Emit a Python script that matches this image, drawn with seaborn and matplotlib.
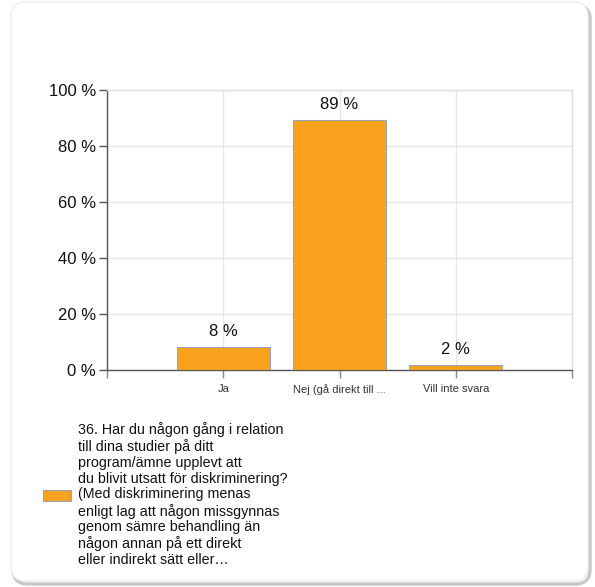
import matplotlib
matplotlib.use("Agg")
from matplotlib import pyplot as plt
from matplotlib.patches import FancyBboxPatch, Patch
import seaborn as sns
import pandas as pd

# Data
categories = ["Ja", "Nej (gå direkt till ...", "Vill inte svara"]
percent = [8.3, 89.4, 1.9]
y_ticks = [0, 20, 40, 60, 80, 100]
legend_label = (
    "36. Har du någon gång i relation\n"
    "till dina studier på ditt\n"
    "program/ämne upplevt att\n"
    "du blivit utsatt för diskriminering?\n"
    "(Med diskriminering menas\n"
    "enligt lag att någon missgynnas\n"
    "genom sämre behandling än\n"
    "någon annan på ett direkt\n"
    "eller indirekt sätt eller…"
)

bar_color = "#F7A11D"

sns.set_style("white")
plt.rcParams["font.family"] = ["Liberation Sans", "DejaVu Sans"]

df = pd.DataFrame({"Svar": categories, "Procent": percent})

fig = plt.figure(figsize=(5.95, 5.87), dpi=100)

# Rounded frame around the whole chart (shadow + light border)
shadow = FancyBboxPatch(
    (13 / 595, 3 / 587), 577 / 595, 579 / 587,
    boxstyle="round,pad=0,rounding_size=0.025",
    transform=fig.transFigure, facecolor="white",
    edgecolor="#c8c8c8", linewidth=2.5, zorder=-10,
)
fig.patches.append(shadow)
frame = FancyBboxPatch(
    (11 / 595, 6 / 587), 577 / 595, 579 / 587,
    boxstyle="round,pad=0,rounding_size=0.025",
    transform=fig.transFigure, facecolor="white",
    edgecolor="#eeeeee", linewidth=1.0, zorder=-9,
)
fig.patches.append(frame)

ax = fig.add_axes([107 / 595, 1 - 370 / 587, 465 / 595, 280 / 587])
ax.set_facecolor("none")

sns.barplot(data=df, x="Svar", y="Procent", color=bar_color, width=0.8,
            edgecolor="#9aa6b8", linewidth=0.8, saturation=1, ax=ax, zorder=3)

ax.set_xlim(-1, 3)
ax.set_ylim(0, 100)
ax.set_xticks([-1, 0, 1, 2, 3])
ax.set_xticklabels([""] + categories + [""], fontsize=8, color="#333333")
ax.set_yticks(y_ticks)
ax.set_yticklabels([f"{t} %" for t in y_ticks], fontsize=12, color="#111111")
ax.set_xlabel("")
ax.set_ylabel("")

ax.grid(True, color="#e6e6e6", linewidth=1.0, zorder=0)
ax.set_axisbelow(True)

for side in ["top", "right"]:
    ax.spines[side].set_color("#dddddd")
    ax.spines[side].set_linewidth(1.0)
for side in ["left", "bottom"]:
    ax.spines[side].set_color("#555555")
    ax.spines[side].set_linewidth(1.0)
    ax.spines[side].set_visible(True)

ax.tick_params(axis="y", length=6, width=1, color="#555555", pad=2, left=True)
ax.tick_params(axis="x", length=6, width=1, color="#888888", pad=4, bottom=True)

# Value labels above bars
for i, v in enumerate(percent):
    ax.text(i, v + 2.8, f"{v:.0f} %", ha="center", va="bottom",
            fontsize=12, color="#111111")

# Legend below the plot
handle = Patch(facecolor=bar_color, edgecolor="#9aa6b8", linewidth=0.8)
leg = fig.legend(handles=[handle], labels=[legend_label], loc="upper left",
                 bbox_to_anchor=(30 / 595, 1 - 409 / 587), frameon=False,
                 fontsize=10.3, handlelength=2.0, handleheight=0.8,
                 handletextpad=0.45, labelspacing=0)
for t in leg.get_texts():
    t.set_linespacing(1.17)
    t.set_color("#111111")

fig.savefig("out.png", dpi=100)
